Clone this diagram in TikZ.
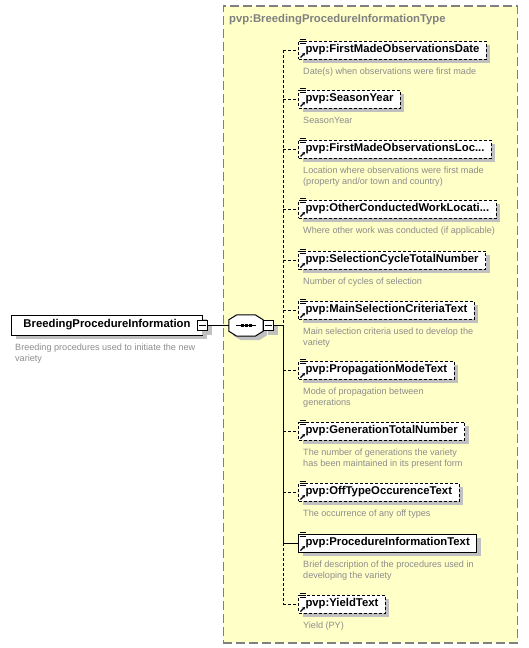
\documentclass[tikz,border=0pt]{standalone}
\usepackage{fontspec}
\setmainfont{Liberation Sans}
\usetikzlibrary{positioning, arrows.meta, shadows}
\definecolor{typefill}{RGB}{255,255,200}
\definecolor{typeline}{RGB}{128,128,128}
\definecolor{shade}{RGB}{192,192,192}
\definecolor{doctext}{RGB}{140,140,140}

\begin{document}
\begin{tikzpicture}[x=1pt, y=-1pt,
    labelfont/.style={font=\fontsize{11.3}{13}\selectfont\bfseries},
    docfont/.style={font=\fontsize{9.1}{11}\selectfont, text=doctext},
    boxshade/.style={general shadow={fill=shade, shadow xshift=4pt, shadow yshift=-4pt}},
    elem/.style={rectangle, draw, fill=white, boxshade, labelfont, minimum height=18pt,
      inner xsep=7pt, inner ysep=0pt, anchor=west, line width=1pt},
    optbox/.style={elem, dash pattern=on 3pt off 2pt},
    reqbox/.style={elem},
    optwire/.style={line width=1pt, dash pattern=on 3pt off 2pt},
    reqwire/.style={line width=1pt},
    doc/.style={docfont, align=left, anchor=north west, inner sep=0pt},
    minusbox/.style={rectangle, draw, fill=white, boxshade, minimum size=10pt,
      inner sep=0pt, line width=1pt},
    typebox/.style={draw=typeline, fill=typefill, line width=1.5pt,
      dash pattern=on 9pt off 4pt, anchor=north west, inner sep=0pt},
    icon/.style={line width=0.9pt}
  ]
  \useasboundingbox (0,0) rectangle (528,648);

  % complex type
  \node[typebox, minimum width=294pt, minimum height=637pt] (ctype) at (222.5,5) {};
  \node[labelfont, text=typeline, anchor=west, inner sep=0pt] (ctitle) at (229,20)
    {pvp:BreedingProcedureInformationType};

  % root element
  \node[reqbox, minimum width=191pt, minimum height=20pt] (bpi) at (11,325)
    {BreedingProcedureInformation};
  \node[doc] (bpidoc) at (15,343.5)
    {Breeding procedures used to initiate the new\\variety};
  \node[minusbox] (bpiminus) at (202.5,325.5) {};
  \draw[line width=1pt] ([xshift=2pt]bpiminus.west) -- ([xshift=-2pt]bpiminus.east);

  % sequence compositor
  \node[minimum width=34pt, minimum height=21pt, inner sep=0pt] (seq) at (246,325.5) {};
  \draw[line width=1pt, fill=white, boxshade]
    ([xshift=8pt]seq.north west) -- ([xshift=-8pt]seq.north east)
    -- ([yshift=-5pt]seq.north east) -- ([yshift=5pt]seq.south east)
    -- ([xshift=-8pt]seq.south east) -- ([xshift=8pt]seq.south west)
    -- ([yshift=5pt]seq.south west) -- ([yshift=-5pt]seq.north west) -- cycle;
  \draw[line width=1pt] ([xshift=-10pt]seq.center) -- ([xshift=10pt]seq.center);
  \foreach \dx in {-4,0,4}
    \fill ([xshift=\dx pt]seq.center) +(-1.5,-1.5) rectangle +(1.5,1.5);
  \node[minusbox] (seqminus) at (268.5,325.5) {};
  \draw[line width=1pt] ([xshift=2pt]seqminus.west) -- ([xshift=-2pt]seqminus.east);
  \coordinate (jseq) at (283,325.5);

  \draw[reqwire] (bpiminus) -- (seq);
  \draw[reqwire] (seqminus) -- (jseq);

  % child elements
  \foreach \i/\y/\bx/\wr/\lbl/\dsc in {
    1/50/optbox/optwire/{pvp:FirstMadeObservationsDate}/{Date(s) when observations were first made},
    2/99/optbox/optwire/{pvp:SeasonYear}/{SeasonYear},
    3/149/optbox/optwire/{pvp:FirstMadeObservationsLoc...}/{Location where observations were first made\\(property and/or town and country)},
    4/209/optbox/optwire/{pvp:OtherConductedWorkLocati...}/{Where other work was conducted (if applicable)},
    5/260/optbox/optwire/{pvp:SelectionCycleTotalNumber}/{Number of cycles of selection},
    6/310/optbox/optwire/{pvp:MainSelectionCriteriaText}/{Main selection criteria used to develop the\\variety},
    7/370/optbox/optwire/{pvp:PropagationModeText}/{Mode of propagation between\\generations},
    8/431/optbox/optwire/{pvp:GenerationTotalNumber}/{The number of generations the variety\\has been maintained in its present form},
    9/492/optbox/optwire/{pvp:OffTypeOccurenceText}/{The occurrence of any off types},
    10/543/reqbox/reqwire/{pvp:ProcedureInformationText}/{Brief description of the procedures used in\\developing the variety},
    11/604/optbox/optwire/{pvp:YieldText}/{Yield (PY)}} {
    \node[\bx] (c\i) at (298,\y) {\lbl};
    \coordinate (j\i) at (283,\y);
    \draw[\wr] (j\i) -- (c\i);
    \node[doc] (d\i) at (303,\y+17.5) {\dsc};
    \draw[icon] (299.5,\y-10.5) -- (306,\y-10.5);
    \draw[icon] (299.5,\y-8.5) -- (305.5,\y-8.5);
    \draw[icon] (299.5,\y-6.5) -- (305.5,\y-6.5);
    \draw[line width=1.2pt, -{Stealth[length=3pt, width=3.5pt]}] (300.5,\y+7.5) -- (305,\y+3);
  }

  % spine
  \draw[optwire] (j1) -- (jseq);
  \draw[reqwire] (jseq) -- (j10);
  \draw[optwire] (j10) -- (j11);
\end{tikzpicture}
\end{document}
